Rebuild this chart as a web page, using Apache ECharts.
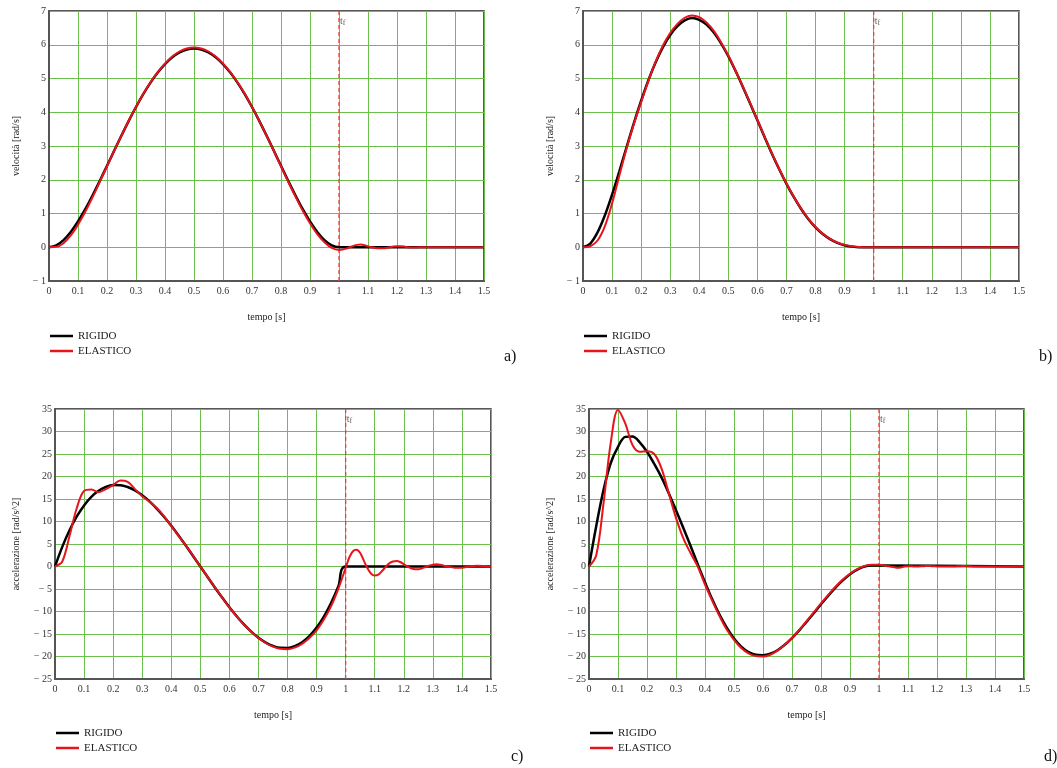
<!DOCTYPE html>
<html>
<head>
<meta charset="utf-8">
<script src="https://cdn.jsdelivr.net/npm/echarts@6/dist/echarts.min.js"></script>
<style>html,body{margin:0;padding:0;background:#fff}#c{width:1057px;height:768px}</style>
</head>
<body>
<div id="c"></div>
<script>
// time samples [s]
const tRigid = [0,0.025,0.05,0.075,0.1,0.125,0.15,0.175,0.2,0.225,0.25,0.275,0.3,0.325,0.35,0.375,0.4,0.425,0.45,0.475,0.5,0.525,0.55,0.575,0.6,0.625,0.65,0.675,0.7,0.725,0.75,0.775,0.8,0.825,0.85,0.875,0.9,0.925,0.95,0.975,1.0,1.5];
const tElastic = [0,0.025,0.05,0.075,0.1,0.125,0.15,0.175,0.2,0.225,0.25,0.275,0.3,0.325,0.35,0.375,0.4,0.425,0.45,0.475,0.5,0.525,0.55,0.575,0.6,0.625,0.65,0.675,0.7,0.725,0.75,0.775,0.8,0.825,0.85,0.875,0.9,0.925,0.95,0.975,1.0,
 1.0125,1.025,1.0375,1.05,1.0625,1.075,1.0875,1.1,1.1125,1.125,1.1375,1.15,1.1625,1.175,1.1875,1.2,1.2125,1.225,1.2375,1.25,1.2625,1.275,1.2875,1.3,1.3125,1.325,1.3375,1.35,
 1.375,1.4,1.425,1.45,1.475,1.5];

// a) velocity [rad/s]
const velRigidA = [0,0.056,0.213,0.454,0.763,1.127,1.532,1.965,2.413,2.866,3.313,3.746,4.156,4.536,4.878,5.177,5.429,5.628,5.773,5.861,5.890,5.861,5.773,5.628,5.429,5.177,4.878,4.536,4.156,3.746,3.313,2.866,2.413,1.965,1.532,1.127,0.763,0.454,0.213,0.056,0,0];
const velElasticA = [0,0.012,0.12,0.35,0.67,1.05,1.48,1.94,2.40,2.86,3.31,3.75,4.16,4.54,4.89,5.19,5.44,5.65,5.80,5.89,5.92,5.89,5.80,5.65,5.44,5.19,4.89,4.55,4.16,3.75,3.31,2.86,2.40,1.94,1.50,1.08,0.71,0.39,0.15,-0.02,-0.08,
 -0.07,-0.04,0.0,0.04,0.07,0.08,0.06,0.03,0.0,-0.02,-0.03,-0.03,-0.02,0.0,0.02,0.03,0.03,0.02,0.0,-0.01,-0.01,0,0,0,0,0,0,0,
 0,0,0,0,0,0];

// b) velocity [rad/s]
const velRigidB = [0,0.11,0.44,0.94,1.56,2.25,2.97,3.68,4.34,4.95,5.48,5.93,6.29,6.55,6.72,6.79,6.74,6.6,6.36,6.04,5.66,5.22,4.75,4.26,3.76,3.26,2.77,2.31,1.88,1.49,1.14,0.84,0.59,0.39,0.24,0.13,0.06,0.02,0,0,0,0];
const velElasticB = [0,0.03,0.2,0.62,1.3,2.12,2.93,3.65,4.3,4.93,5.5,5.98,6.35,6.62,6.8,6.87,6.82,6.66,6.41,6.07,5.68,5.23,4.76,4.27,3.77,3.27,2.78,2.32,1.89,1.5,1.15,0.85,0.6,0.4,0.25,0.14,0.07,0.03,0.01,0,0,
 0,0,0,0,0,0,0,0,0,0,0,0,0,0,0,0,0,0,0,0,0,0,0,0,0,0,0,0,
 0,0,0,0,0,0];

// c) acceleration [rad/s^2]
const accRigidC = [0,4.365,8.058,11.12,13.57,15.46,16.82,17.69,18.10,18.08,17.67,16.91,15.83,14.47,12.87,11.05,9.048,6.91,4.665,2.35,0,-2.35,-4.665,-6.91,-9.048,-11.05,-12.87,-14.47,-15.83,-16.91,-17.67,-18.08,-18.10,-17.69,-16.82,-15.46,-13.57,-11.12,-8.058,-4.365,0,0];
const accElasticC = [0,1.1,6.8,13.0,16.8,17.1,16.5,17.2,18.1,19.1,18.8,17.2,15.6,14.4,13.0,11.2,9.0,6.8,4.7,2.4,0.0,-2.3,-4.6,-6.9,-9.1,-11.1,-12.9,-14.5,-15.9,-17.0,-17.8,-18.3,-18.4,-18.0,-17.2,-15.9,-14.2,-11.8,-8.8,-4.9,-0.3,
 2.0,3.4,3.7,3.0,1.3,-0.4,-1.6,-2.0,-1.8,-1.0,-0.1,0.7,1.1,1.2,1.0,0.5,0.0,-0.4,-0.6,-0.6,-0.4,-0.1,0.2,0.4,0.5,0.4,0.2,0.0,
 -0.25,-0.25,0.0,0.15,0.1,0.0];

// d) acceleration [rad/s^2]
const accRigidD = [0,9.0,17.0,23.0,26.6,28.8,28.9,27.6,25.5,22.8,19.8,16.3,12.5,8.6,4.6,0.5,-3.5,-7.3,-10.7,-13.6,-16.0,-17.8,-19.0,-19.6,-19.7,-19.4,-18.6,-17.4,-15.9,-14.2,-12.3,-10.4,-8.4,-6.5,-4.7,-3.1,-1.7,-0.7,0.0,0.2,0.2,0];
const accElasticD = [0,2.5,14.0,27.5,34.8,31.8,27.0,25.5,25.6,25.0,21.8,16.3,10.8,6.3,3.0,0.0,-4.0,-7.6,-11.0,-14.0,-16.3,-18.1,-19.3,-19.9,-20.0,-19.6,-18.7,-17.4,-15.9,-14.1,-12.2,-10.2,-8.2,-6.3,-4.5,-2.9,-1.6,-0.6,0.1,0.4,0.4,
 0.3,0.1,0.0,-0.1,-0.3,-0.2,0.0,0.05,0.05,0.0,0.0,0.05,0.1,0.1,0.05,0,0,0,0,0,0,0.05,0.1,0.1,0.05,0,0,0,
 0,0,0,0,0,0];

const xTicks = {min: 0, max: 1.5, interval: 0.1};
const yVel = {min: -1, max: 7, interval: 1};
const yAcc = {min: -25, max: 35, interval: 5};
const legendNames = ['RIGIDO', 'ELASTICO'];
const panelLetters = ['a)', 'b)', 'c)', 'd)'];
const tEnd = 1;

const SERIF = '"Liberation Serif", "Times New Roman", serif';
const grids = [
  {left: 49, top: 11, width: 435, height: 270},
  {left: 583, top: 11, width: 436, height: 270},
  {left: 55, top: 409, width: 436, height: 270},
  {left: 589, top: 409, width: 435, height: 270}
];
const yNames = ['velocità [rad/s]', 'velocità [rad/s]', 'accelerazione [rad/s^2]', 'accelerazione [rad/s^2]'];
const yRanges = [yVel, yVel, yAcc, yAcc];
const yNameGaps = [28, 28, 34, 34];

function pairs(t, v) { return t.map((x, i) => [x, v[i]]); }
function fmtX(v) { return String(parseFloat(v.toFixed(1))); }
function fmtY(v) { return v < 0 ? '\u2212 ' + Math.abs(v) : String(v); }

const xAxes = grids.map((g, i) => ({
  type: 'value', gridIndex: i, min: xTicks.min, max: xTicks.max, interval: xTicks.interval,
  name: 'tempo [s]', nameLocation: 'middle', nameGap: 31,
  nameTextStyle: {fontFamily: SERIF, fontSize: 10, color: '#222'},
  axisLine: {show: true, onZero: false, lineStyle: {color: '#555', width: 2}},
  axisTick: {show: false},
  axisLabel: {formatter: fmtX, margin: 5, fontFamily: SERIF, fontSize: 10, color: '#333'},
  splitLine: {show: true, lineStyle: {color: '#6cbf4c', width: 1}}
}));
const yAxes = grids.map((g, i) => ({
  type: 'value', gridIndex: i, min: yRanges[i].min, max: yRanges[i].max, interval: yRanges[i].interval,
  name: yNames[i], nameLocation: 'middle', nameRotate: 90, nameGap: yNameGaps[i],
  nameTextStyle: {fontFamily: SERIF, fontSize: 10, color: '#222'},
  axisLine: {show: true, onZero: false, lineStyle: {color: '#555', width: 2}},
  axisTick: {show: false},
  axisLabel: {formatter: fmtY, margin: 3, fontFamily: SERIF, fontSize: 10, color: '#333'},
  splitLine: {show: true, lineStyle: {color: '#6cbf4c', width: 1}}
}));

const rigid = [velRigidA, velRigidB, accRigidC, accRigidD];
const elastic = [velElasticA, velElasticB, accElasticC, accElasticD];
const series = [];
grids.forEach((g, i) => {
  const ymax = yRanges[i].max;
  series.push({
    name: legendNames[0], type: 'line', xAxisIndex: i, yAxisIndex: i,
    data: pairs(tRigid, rigid[i]), showSymbol: false, symbol: 'none', smooth: 0.35,
    color: '#000', lineStyle: {color: '#000', width: 2.5}, z: 3
  });
  series.push({
    name: legendNames[1], type: 'line', xAxisIndex: i, yAxisIndex: i,
    data: pairs(tElastic, elastic[i]), showSymbol: false, symbol: 'none', smooth: 0.35,
    color: '#e8141c', lineStyle: {color: '#e8141c', width: 2}, z: 4
  });
  // end-of-motion marker t_f
  series.push({
    name: 'tf', type: 'line', xAxisIndex: i, yAxisIndex: i,
    data: [[tEnd, yRanges[i].min], [tEnd, ymax]], showSymbol: false, symbol: 'none',
    color: '#e8452c', lineStyle: {color: '#e8452c', width: 1.3, type: [4, 3]}, z: 2, silent: true,
    markPoint: {
      silent: true, symbol: 'circle', symbolSize: 0,
      data: [{coord: [tEnd, ymax]}],
      label: {
        show: true, position: [1, 4], formatter: '{t|t}{f|f}',
        rich: {
          t: {fontFamily: SERIF, fontSize: 10, color: '#666'},
          f: {fontFamily: SERIF, fontSize: 8, color: '#666', verticalAlign: 'bottom', padding: [4, 0, 0, 0]}
        }
      }
    }
  });
});

const legendPos = [{left: 50, top: 330}, {left: 584, top: 330}, {left: 56, top: 727}, {left: 590, top: 727}];
const legends = legendPos.map(p => ({
  orient: 'vertical', left: p.left, top: p.top, padding: 0, itemGap: 3,
  itemWidth: 23, itemHeight: 2.5, icon: 'rect', selectedMode: false,
  textStyle: {fontFamily: SERIF, fontSize: 11, color: '#222', lineHeight: 12},
  data: legendNames
}));

const letterPos = [[504, 349], [1039, 349], [511, 749], [1044, 749]];
const graphics = panelLetters.map((s, i) => ({
  type: 'text', x: letterPos[i][0], y: letterPos[i][1],
  style: {text: s, font: '16px ' + SERIF, fill: '#111'}
}));

const chart = echarts.init(document.getElementById('c'), null, {renderer: 'canvas'});
chart.setOption({
  animation: false,
  backgroundColor: '#fff',
  grid: grids.map(g => Object.assign({show: true, borderColor: '#222', borderWidth: 1.5, backgroundColor: 'transparent', containLabel: false, outerBoundsMode: 'none'}, g)),
  xAxis: xAxes,
  yAxis: yAxes,
  legend: legends,
  graphic: graphics,
  series: series
});
</script>
</body>
</html>
